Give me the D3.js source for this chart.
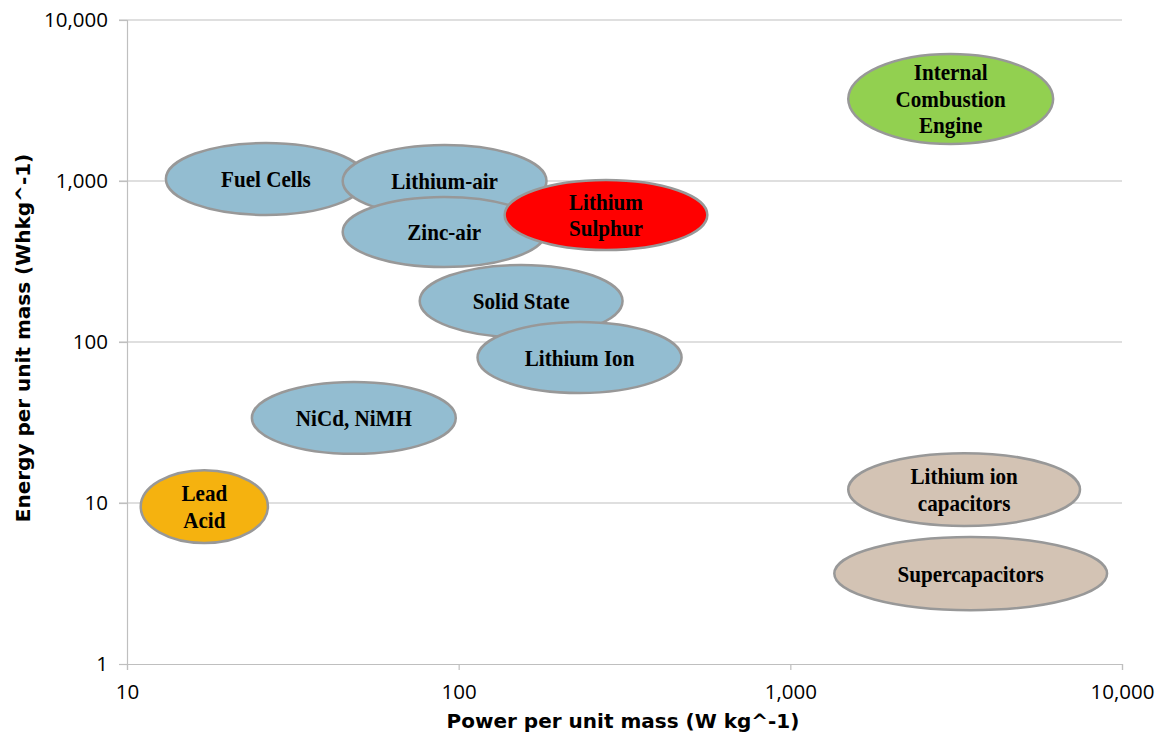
<!DOCTYPE html>
<html>
<head>
<meta charset="utf-8">
<script src="https://cdn.jsdelivr.net/npm/d3@7"></script>
<style>
  html, body { margin: 0; padding: 0; background: #fff; }
  svg { display: block; }
</style>
</head>
<body>
<svg id="chart" width="1160" height="740"></svg>
<script>
// ---- Data ----
const technologies = ["Fuel Cells", "Lithium-air", "Zinc-air", "Lithium Sulphur", "Solid State", "Lithium Ion", "NiCd, NiMH", "Lead Acid", "Internal Combustion Engine", "Lithium ion capacitors", "Supercapacitors"];
const labelLines = [["Fuel Cells"], ["Lithium-air"], ["Zinc-air"], ["Lithium", "Sulphur"], ["Solid State"], ["Lithium Ion"], ["NiCd, NiMH"], ["Lead", "Acid"], ["Internal", "Combustion", "Engine"], ["Lithium ion", "capacitors"], ["Supercapacitors"]];
const powerMin  = [13.1, 44.7, 44.7, 137.6, 76.3, 114, 23.8, 11.0, 1495, 1495, 1357];
const powerMax  = [52.5, 184, 183, 562, 312, 470, 98, 26.6, 6200, 7470, 9015];
const energyMin = [615, 598, 292, 373, 107, 48.2, 20.2, 5.64, 1698, 7.2, 2.16];
const energyMax = [1722, 1674, 796, 1014, 301, 133, 56.5, 16.0, 6150, 20.4, 6.15];
const group     = ["battery", "battery", "battery", "lis", "battery", "battery", "battery", "lead", "ice", "cap", "cap"];
const xTicks = [10, 100, 1000, 10000];
const yTicks = [1, 10, 100, 1000, 10000];
const xTitle = "Power per unit mass (W kg^-1)";
const yTitle = "Energy per unit mass (Whkg^-1)";

const colors = { battery: "#93BDD1", lis: "#FF0000", lead: "#F5B20F", ice: "#92D050", cap: "#D3C3B4" };

// ---- Layout ----
const svg = d3.select("#chart");
const mLeft = 127, mRight = 1122, mTop = 20, mBottom = 664;
const x = d3.scaleLog().domain([10, 10000]).range([mLeft, mRight]);
const y = d3.scaleLog().domain([1, 10000]).range([mBottom, mTop]);
const fmt = d3.format(",");

// gridlines
svg.append("g").selectAll("line").data(yTicks.filter(d => d > 1)).join("line")
  .attr("x1", mLeft - 8).attr("x2", mRight)
  .attr("y1", d => y(d)).attr("y2", d => y(d))
  .attr("stroke", "#BFBFBF").attr("stroke-width", 1.2);

// y axis
const yAxis = svg.append("g").attr("transform", `translate(${mLeft},0)`)
  .call(d3.axisLeft(y).tickValues(yTicks).tickFormat(fmt).tickSize(8).tickPadding(11));
yAxis.select(".domain").attr("stroke", "#BFBFBF").attr("stroke-width", 1.2);
yAxis.selectAll(".tick line").attr("stroke", "#BFBFBF").attr("stroke-width", 1.2);
yAxis.selectAll("text").attr("font-family", "'Open Sans', sans-serif").attr("font-size", 20.5).attr("fill", "#000");

// x axis
const xAxis = svg.append("g").attr("transform", `translate(0,${mBottom})`)
  .call(d3.axisBottom(x).tickValues(xTicks).tickFormat(fmt).tickSize(6).tickPadding(14));
xAxis.select(".domain").attr("stroke", "#BFBFBF").attr("stroke-width", 1.2);
xAxis.selectAll(".tick line").attr("stroke", "#BFBFBF").attr("stroke-width", 1.2);
xAxis.selectAll("text").attr("font-family", "'Open Sans', sans-serif").attr("font-size", 20.5).attr("fill", "#000");

// axis titles
svg.append("text").attr("x", 623).attr("y", 728)
  .attr("text-anchor", "middle").attr("font-family", "'DejaVu Sans', sans-serif")
  .attr("font-weight", "bold").attr("font-size", 20).text(xTitle);
svg.append("text").attr("transform", `translate(30,338) rotate(-90)`)
  .attr("text-anchor", "middle").attr("font-family", "'DejaVu Sans', sans-serif")
  .attr("font-weight", "bold").attr("font-size", 20).text(yTitle);

// ellipses
const data = technologies.map((name, i) => ({
  name, lines: labelLines[i],
  x0: powerMin[i], x1: powerMax[i], y0: energyMin[i], y1: energyMax[i], g: group[i]
}));

const items = svg.append("g").selectAll("g").data(data).join("g");
items.append("ellipse")
  .attr("cx", d => (x(d.x0) + x(d.x1)) / 2)
  .attr("cy", d => (y(d.y0) + y(d.y1)) / 2)
  .attr("rx", d => (x(d.x1) - x(d.x0)) / 2)
  .attr("ry", d => (y(d.y0) - y(d.y1)) / 2)
  .attr("fill", d => colors[d.g])
  .attr("stroke", "#989898").attr("stroke-width", 2.5);

items.each(function(d) {
  const cx = (x(d.x0) + x(d.x1)) / 2;
  const cy = (y(d.y0) + y(d.y1)) / 2;
  const n = d.lines.length;
  const lh = 26.5;
  const t = d3.select(this).append("text")
    .attr("transform", `translate(${cx},${cy}) scale(0.88,1)`)
    .attr("text-anchor", "middle")
    .attr("font-family", "'Liberation Serif', 'Times New Roman', serif")
    .attr("font-weight", "bold").attr("font-size", 24).attr("fill", "#000");
  d.lines.forEach((line, k) => {
    t.append("tspan").attr("x", 0).attr("y", 8 + (k - (n - 1) / 2) * lh).text(line);
  });
});
</script>
</body>
</html>
